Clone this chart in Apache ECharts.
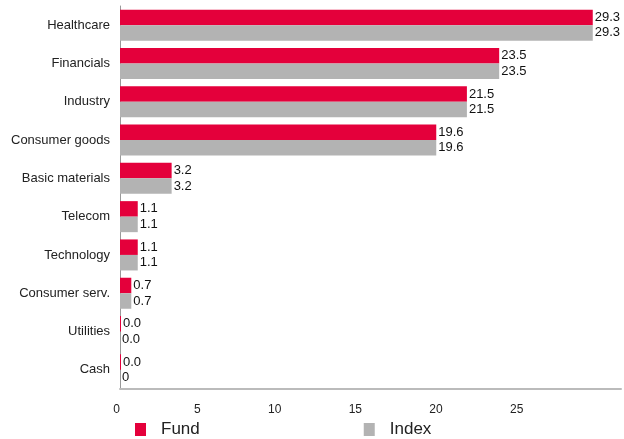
<!DOCTYPE html>
<html><head><meta charset="utf-8">
<script src="https://cdn.jsdelivr.net/npm/echarts@6/dist/echarts.min.js"></script>
<style>html,body{margin:0;padding:0;background:#fff}#c{width:624px;height:439px}</style>
</head><body><div id="c"></div>
<script>
const categories = ['Healthcare','Financials','Industry','Consumer goods','Basic materials','Telecom','Technology','Consumer serv.','Utilities','Cash'];
const fundValues = [29.3,23.5,21.5,19.6,3.2,1.1,1.1,0.7,0.0,0.0];
const indexValues = [29.3,23.5,21.5,19.6,3.2,1.1,1.1,0.7,0.0,0.0];
const fundLabels = ['29.3','23.5','21.5','19.6','3.2','1.1','1.1','0.7','0.0','0.0'];
const indexLabels = ['29.3','23.5','21.5','19.6','3.2','1.1','1.1','0.7','0.0','0'];
const xTicks = [0,5,10,15,20,25];

const chart = echarts.init(document.getElementById('c'), null, {renderer:'canvas'});
const font = 'Liberation Sans, Arial, sans-serif';
chart.setOption({
  animation:false,
  textStyle:{fontFamily:font},
  grid:{left:120, right:0, top:6, bottom:50, containLabel:false},
  legend:{
    data:['Fund','Index'], left:130, top:416, itemGap:164,
    itemWidth:11, itemHeight:13, icon:'rect',
    textStyle:{fontSize:17, color:'#222', fontFamily:font, padding:[0,0,0,10]}
  },
  xAxis:{
    type:'value', min:0, max:31.05, interval:5,
    axisLine:{show:true, lineStyle:{color:'#bbbbbb', width:2}},
    axisTick:{show:false}, splitLine:{show:false},
    axisLabel:{margin:15, fontSize:12, color:'#222', align:'right',
      formatter:v => xTicks.indexOf(v) >= 0 ? String(v) : ''}
  },
  yAxis:{
    type:'category', data:categories, inverse:true,
    axisLine:{show:true, lineStyle:{color:'#999999', width:1}},
    axisTick:{show:false},
    axisLabel:{margin:10, fontSize:13, color:'#222'}
  },
  series:[
    {name:'Fund', type:'bar', data:fundValues, barGap:'0%', barCategoryGap:'19%',
     barMinHeight:1,
     itemStyle:{color:'#e4003b'},
     label:{show:true, position:'right', distance:2, fontSize:13, color:'#111',
       formatter:p => fundLabels[p.dataIndex]}},
    {name:'Index', type:'bar', data:indexValues,
     itemStyle:{color:'#b3b3b3'},
     label:{show:true, position:'right', distance:2, fontSize:13, color:'#111',
       formatter:p => indexLabels[p.dataIndex]}}
  ]
});
</script></body></html>
